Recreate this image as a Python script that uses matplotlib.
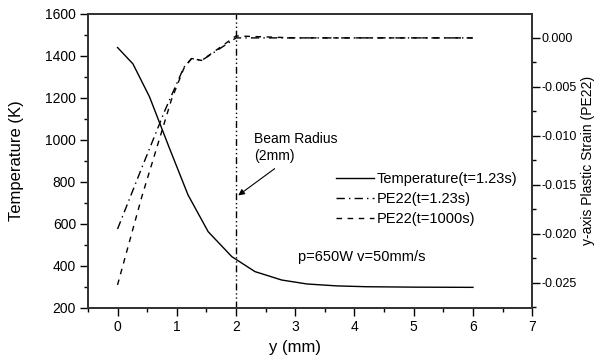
import matplotlib
matplotlib.use("Agg")
import matplotlib.pyplot as plt
import numpy as np
from matplotlib.ticker import MultipleLocator, FuncFormatter

plt.rcParams['font.family'] = ['Liberation Sans', 'DejaVu Sans']

# Temperature (K) vs y (mm), t=1.23s
temp_y = [0, 0.26, 0.54, 0.87, 1.19, 1.53, 1.93, 2.32, 2.77, 3.2, 3.7, 4.2, 5.0, 6.0]
temp_T = [1440, 1362, 1205, 965, 738, 563, 444, 373, 333, 314, 305, 301, 299, 298]

# PE22 at t=1.23s
pe1_y = [0, 0.4, 0.8, 1.12, 1.25, 1.42, 1.7, 2.0, 2.5, 3.0, 4.0, 5.0, 6.0]
pe1_v = [-0.0195, -0.0134, -0.0074, -0.0030, -0.0021, -0.0023, -0.0012, 0.0000, 0.0000, 0.0000, 0.0000, 0.0000, 0.0000]

# PE22 at t=1000s
pe2_y = [0, 0.41, 0.91, 1.12, 1.25, 1.42, 1.7, 2.0, 2.5, 3.0, 4.0, 5.0, 6.0]
pe2_v = [-0.0252, -0.0162, -0.0063, -0.0031, -0.0021, -0.0023, -0.0011, 0.0002, 0.0001, 0.0000, 0.0000, 0.0000, 0.0000]

beam_radius = 2.0

fig = plt.figure(figsize=(5.94, 3.56), dpi=100)
ax = fig.add_axes([0.148, 0.135, 0.748, 0.826])
ax2 = ax.twinx()

l1, = ax.plot(temp_y, temp_T, color='black', lw=1.0, ls='-', label='Temperature(t=1.23s)')
l2, = ax2.plot(pe1_y, pe1_v, color='black', lw=1.0, ls=(0, (6, 3, 1, 3)), label='PE22(t=1.23s)')
l3, = ax2.plot(pe2_y, pe2_v, color='black', lw=1.0, ls=(0, (4, 4)), label='PE22(t=1000s)')

ax.axvline(beam_radius, color='black', lw=1.0, ls=(0, (5, 2, 1, 2, 1, 2)))

ax.set_xlim(-0.5, 7)
ax.set_ylim(200, 1600)
ax2.set_ylim(-0.02755, 0.00245)

ax.xaxis.set_major_locator(MultipleLocator(1))
ax.xaxis.set_minor_locator(MultipleLocator(0.5))
ax.yaxis.set_major_locator(MultipleLocator(200))
ax.yaxis.set_minor_locator(MultipleLocator(100))
ax2.yaxis.set_major_locator(MultipleLocator(0.005))
ax2.yaxis.set_minor_locator(MultipleLocator(0.0025))


def fmt_right(v, pos):
    v = round(v, 6)
    if abs(v) < 1e-9:
        v = 0.0
    return '%.3f' % v


ax2.yaxis.set_major_formatter(FuncFormatter(fmt_right))

for a in (ax, ax2):
    a.tick_params(which='major', length=5.5, width=1.0, labelsize=10, direction='out', top=False, pad=3)
    a.tick_params(which='minor', length=3, width=1.0, direction='out', top=False)
    for s in a.spines.values():
        s.set_linewidth(1.3)
        s.set_color('#333333')
ax2.tick_params(which='major', labelsize=9, pad=1)

ax.set_xlabel('y (mm)', fontsize=12)
ax.set_ylabel('Temperature (K)', fontsize=12)
ax2.set_ylabel('y-axis Plastic Strain (PE22)', fontsize=10)
ax.xaxis.set_label_coords(0.466, -0.108)
ax.yaxis.set_label_coords(-0.144, 0.5)
ax2.yaxis.set_label_coords(1.109, 0.5)

ax.legend(handles=[l1, l2, l3], loc='upper left', bbox_to_anchor=(0.558, 0.462),
          frameon=False, fontsize=10.5, handlelength=2.6, handletextpad=0.2,
          labelspacing=0.42, borderaxespad=0, borderpad=0)

ax.text(3.05, 443, 'p=650W v=50mm/s', fontsize=10.5, va='center', ha='left')
ax.text(2.3, 1005, 'Beam Radius', fontsize=10, va='center', ha='left')
ax.text(2.3, 925, '(2mm)', fontsize=10, va='center', ha='left')
ax.annotate('', xy=(2.0, 728), xytext=(2.69, 871),
            arrowprops=dict(arrowstyle='-|>', color='black', lw=0.8, mutation_scale=9))

fig.savefig('out.png', dpi=100)
